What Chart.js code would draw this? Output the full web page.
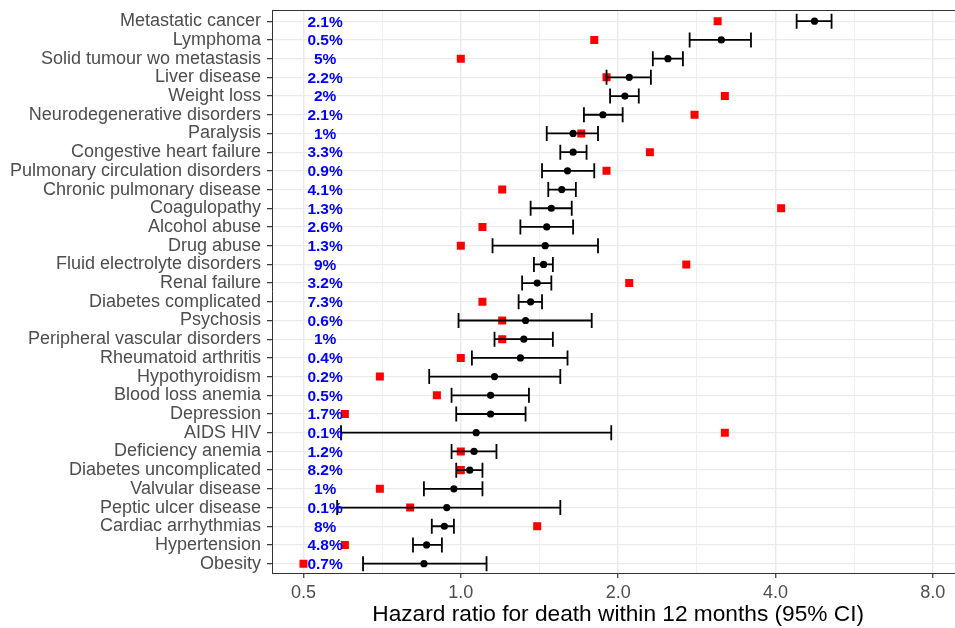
<!DOCTYPE html>
<html><head><meta charset="utf-8">
<script src="https://cdn.jsdelivr.net/npm/chart.js@4"></script>
<style>html,body{margin:0;padding:0;overflow:hidden;background:#fff}</style>
</head><body>
<canvas id="c" width="970" height="628" style="display:block;width:970px;height:628px"></canvas>
<script>
const categories = ["Metastatic cancer","Lymphoma","Solid tumour wo metastasis","Liver disease","Weight loss","Neurodegenerative disorders","Paralysis","Congestive heart failure","Pulmonary circulation disorders","Chronic pulmonary disease","Coagulopathy","Alcohol abuse","Drug abuse","Fluid electrolyte disorders","Renal failure","Diabetes complicated","Psychosis","Peripheral vascular disorders","Rheumatoid arthritis","Hypothyroidism","Blood loss anemia","Depression","AIDS HIV","Deficiency anemia","Diabetes uncomplicated","Valvular disease","Peptic ulcer disease","Cardiac arrhythmias","Hypertension","Obesity"];
const hazardRatio = [4.75, 3.15, 2.49, 2.10, 2.06, 1.87, 1.64, 1.64, 1.60, 1.56, 1.49, 1.46, 1.45, 1.44, 1.40, 1.36, 1.33, 1.32, 1.30, 1.16, 1.14, 1.14, 1.07, 1.06, 1.04, 0.97, 0.94, 0.93, 0.86, 0.85];
const ciLower = [4.39, 2.74, 2.33, 1.90, 1.93, 1.72, 1.46, 1.55, 1.43, 1.47, 1.36, 1.30, 1.15, 1.38, 1.31, 1.29, 0.99, 1.16, 1.05, 0.87, 0.96, 0.98, 0.59, 0.96, 0.98, 0.85, 0.58, 0.88, 0.81, 0.65];
const ciUpper = [5.12, 3.59, 2.66, 2.31, 2.19, 2.04, 1.83, 1.74, 1.80, 1.66, 1.63, 1.64, 1.83, 1.50, 1.49, 1.43, 1.78, 1.50, 1.60, 1.55, 1.35, 1.33, 1.94, 1.17, 1.10, 1.10, 1.55, 0.97, 0.92, 1.12];
const comparisonRatio = [3.1, 1.8, 1.0, 1.9, 3.2, 2.8, 1.7, 2.3, 1.9, 1.2, 4.1, 1.1, 1.0, 2.7, 2.1, 1.1, 1.2, 1.2, 1.0, 0.7, 0.9, 0.6, 3.2, 1.0, 1.0, 0.7, 0.8, 1.4, 0.6, 0.5];
const prevalencePct = [2.1, 0.5, 5, 2.2, 2, 2.1, 1, 3.3, 0.9, 4.1, 1.3, 2.6, 1.3, 9, 3.2, 7.3, 0.6, 1, 0.4, 0.2, 0.5, 1.7, 0.1, 1.2, 8.2, 1, 0.1, 8, 4.8, 0.7];
const xMajorTicks = [0.5, 1, 2, 4, 8];
const xTitle = 'Hazard ratio for death within 12 months (95% CI)';

const n = categories.length;
const rowY = i => n - i;
const FONT = "'Liberation Sans', Arial, Helvetica, sans-serif";
const xMinorTicks = xMajorTicks.slice(1).map((v, i) => Math.sqrt(v * xMajorTicks[i]));
const xAllTicks = xMajorTicks.concat(xMinorTicks).sort((a, b) => a - b);
const isMajor = v => xMajorTicks.includes(v);
const labelPos = 0.55;

const forestPlugin = {
  id: 'forest',
  beforeDatasetDraw(chart, args) {
    if (args.index !== 0) return;
    const {ctx, scales: {x, y}} = chart;
    ctx.save();
    ctx.strokeStyle = '#000';
    ctx.lineWidth = 1.8;
    const cap = 7.5;
    for (let i = 0; i < n; i++) {
      const py = y.getPixelForValue(rowY(i));
      const x0 = x.getPixelForValue(ciLower[i]);
      const x1 = x.getPixelForValue(ciUpper[i]);
      ctx.beginPath();
      ctx.moveTo(x0, py); ctx.lineTo(x1, py);
      ctx.moveTo(x0, py - cap); ctx.lineTo(x0, py + cap);
      ctx.moveTo(x1, py - cap); ctx.lineTo(x1, py + cap);
      ctx.stroke();
    }
    ctx.restore();
  },
  afterDatasetsDraw(chart) {
    const {ctx, chartArea, scales: {x, y}} = chart;
    ctx.save();
    ctx.font = 'bold 15.5px ' + FONT;
    ctx.fillStyle = '#0000FF';
    ctx.textAlign = 'center';
    ctx.textBaseline = 'middle';
    const lx = x.getPixelForValue(labelPos);
    for (let i = 0; i < n; i++) {
      ctx.fillText(prevalencePct[i] + '%', lx, y.getPixelForValue(rowY(i)) + 1);
    }
    ctx.strokeStyle = '#333';
    ctx.lineWidth = 1;
    ctx.beginPath();
    ctx.moveTo(chartArea.left, chartArea.top + 0.5);
    ctx.lineTo(chartArea.right, chartArea.top + 0.5);
    ctx.stroke();
    ctx.restore();
  }
};

new Chart(document.getElementById('c'), {
  type: 'scatter',
  data: {
    datasets: [
      { label: 'Hazard ratio', data: hazardRatio.map((v, i) => ({x: v, y: rowY(i)})),
        pointStyle: 'circle', pointRadius: 3.6, backgroundColor: '#000', borderColor: '#000', borderWidth: 0 },
      { label: 'Comparison', data: comparisonRatio.map((v, i) => ({x: v, y: rowY(i)})),
        pointStyle: 'rect', pointRadius: 5.66, backgroundColor: '#FF0000', borderColor: '#FF0000', borderWidth: 0 }
    ]
  },
  options: {
    responsive: false,
    animation: false,
    events: [],
    layout: { padding: { top: 10, right: 2, left: 0, bottom: 0 } },
    plugins: { legend: { display: false }, tooltip: { enabled: false } },
    scales: {
      x: {
        type: 'logarithmic', position: 'bottom', bounds: 'data',
        min: Math.pow(2, -1.2), max: Math.pow(2, 3.2),
        afterBuildTicks: s => { s.ticks = xAllTicks.map(v => ({value: v})); },
        afterFit: s => { s.height = 55; s.paddingLeft = 0; s.paddingRight = 0; },
        grid: {
          color: '#EBEBEB',
          lineWidth: c => (c.tick && isMajor(c.tick.value)) ? 1.5 : 0.8,
          tickLength: 5,
          tickColor: c => (c.tick && isMajor(c.tick.value)) ? '#333' : 'rgba(0,0,0,0)',
          tickWidth: 1.2
        },
        border: { display: true, color: '#333', width: 1 },
        ticks: {
          autoSkip: false, maxRotation: 0, minRotation: 0, padding: 4,
          color: '#4D4D4D', font: { family: FONT, size: 18 },
          callback: v => isMajor(v) ? v.toFixed(1) : ''
        },
        title: { display: true, text: xTitle, color: '#000',
          font: { family: FONT, size: 22.7, lineHeight: 1.2 }, padding: { top: 0, bottom: 0 } }
      },
      y: {
        type: 'linear', bounds: 'data', min: 0.5, max: n + 0.6,
        afterBuildTicks: s => { s.ticks = categories.map((_, i) => ({value: rowY(i)})).reverse(); },
        afterFit: s => { s.width = 272; s.paddingTop = 0; s.paddingBottom = 0; },
        grid: { color: '#EBEBEB', lineWidth: 1.3, tickLength: 5, tickColor: '#333', tickWidth: 1.2 },
        border: { display: true, color: '#333', width: 1 },
        ticks: {
          autoSkip: false, padding: 6, color: '#4D4D4D', font: { family: FONT, size: 18 },
          callback: v => categories[n - v]
        }
      }
    }
  },
  plugins: [forestPlugin]
});
</script>
</body></html>
